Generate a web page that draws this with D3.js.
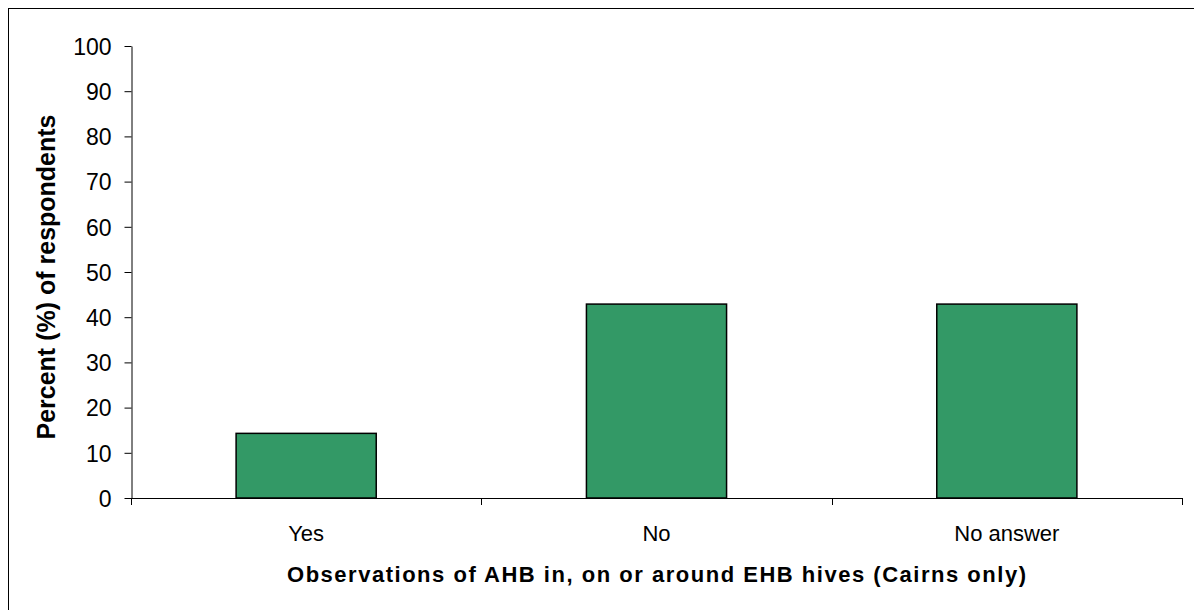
<!DOCTYPE html>
<html>
<head>
<meta charset="utf-8">
<script src="https://cdn.jsdelivr.net/npm/d3@7"></script>
<style>
  html, body { margin: 0; padding: 0; background: #fff; }
  svg { display: block; font-family: "Liberation Sans", Arial, sans-serif; }
</style>
</head>
<body>
<svg id="chart" width="1194" height="610"></svg>
<script>
// Survey responses (percent of respondents)
const categories = ["Yes", "No", "No answer"];
const percentValues = [14.3, 42.9, 42.9];
const yTicks = [0, 10, 20, 30, 40, 50, 60, 70, 80, 90, 100];
const yTitle = "Percent (%) of respondents";
const xTitle = "Observations of AHB in, on or around EHB hives (Cairns only)";

const svg = d3.select("#chart");
const margin = { left: 131, right: 12, top: 46, bottom: 112 };
const W = 1194, H = 610;

// Outer frame
svg.append("rect")
  .attr("x", 8.5).attr("y", 8.5)
  .attr("width", 1200).attr("height", 700)
  .attr("fill", "none").attr("stroke", "#000").attr("stroke-width", 1);

const x = d3.scaleBand()
  .domain(categories)
  .range([margin.left, W - margin.right])
  .paddingInner(0.6)
  .paddingOuter(0.3);

const y = d3.scaleLinear().domain([0, 100]).range([H - margin.bottom, margin.top]);

// Bars
svg.append("g").selectAll("rect")
  .data(categories)
  .join("rect")
  .attr("x", d => x(d))
  .attr("y", (d, i) => y(percentValues[i]))
  .attr("width", x.bandwidth())
  .attr("height", (d, i) => y(0) - y(percentValues[i]))
  .attr("fill", "#339966")
  .attr("stroke", "#000")
  .attr("stroke-width", 1.5);

// Y axis
const yAxis = svg.append("g")
  .attr("transform", `translate(${margin.left + 0.5},0)`)
  .call(d3.axisLeft(y).tickValues(yTicks).tickSize(7).tickPadding(13).tickSizeOuter(0));
yAxis.select(".domain").attr("stroke", "#000");
yAxis.selectAll(".tick line").attr("stroke", "#000");
yAxis.selectAll("text").attr("font-size", 23).attr("fill", "#000")
  .attr("font-family", "Liberation Sans, Arial, sans-serif")
  .attr("dy", "0.36em");

// X axis: baseline plus ticks at category boundaries
const x0 = margin.left, x1 = W - margin.right;
svg.append("line")
  .attr("x1", x0).attr("x2", x1 + 0.5)
  .attr("y1", y(0) + 0.5).attr("y2", y(0) + 0.5)
  .attr("stroke", "#000");
const boundaries = d3.range(categories.length + 1).map(i => x0 + i * (x1 - x0) / categories.length);
svg.append("g").selectAll("line")
  .data(boundaries)
  .join("line")
  .attr("x1", d => Math.round(d) + 0.5).attr("x2", d => Math.round(d) + 0.5)
  .attr("y1", y(0)).attr("y2", y(0) + 7)
  .attr("stroke", "#000");

svg.append("g").selectAll("text")
  .data(categories)
  .join("text")
  .attr("x", d => x(d) + x.bandwidth() / 2)
  .attr("y", 541)
  .attr("text-anchor", "middle")
  .attr("font-size", 22)
  .text(d => d);

// Axis titles
svg.append("text")
  .attr("x", 287)
  .attr("y", 582)
  .attr("font-size", 22)
  .attr("font-weight", "bold")
  .attr("textLength", 739)
  .attr("lengthAdjust", "spacing")
  .text(xTitle);

svg.append("text")
  .attr("transform", `translate(55, 277) rotate(-90)`)
  .attr("text-anchor", "middle")
  .attr("font-size", 25)
  .attr("font-weight", "bold")
  .text(yTitle);
</script>
</body>
</html>
